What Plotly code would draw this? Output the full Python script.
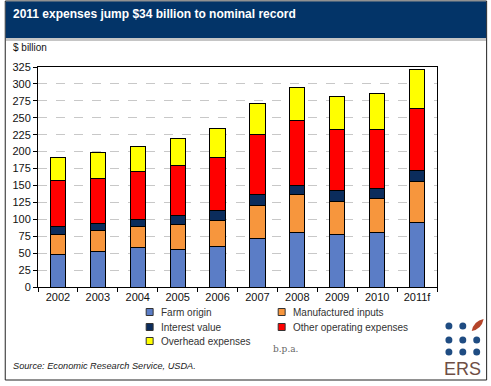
import plotly.graph_objects as go

years = ["2002", "2003", "2004", "2005", "2006", "2007", "2008", "2009", "2010", "2011f"]
farm_origin = [48, 53, 58, 56, 60, 72, 80, 77, 81, 96]
manufactured_inputs = [29, 30, 31, 36, 38, 48, 56, 50, 50, 60]
interest_value = [13, 11, 11, 14, 15, 16, 14, 15, 15, 16]
other_operating = [67, 67, 70, 73, 78, 89, 96, 90, 86, 92]
overhead = [35, 37, 38, 41, 43, 46, 48, 49, 54, 58]

series_names = ["Farm origin", "Manufactured inputs", "Interest value",
                "Other operating expenses", "Overhead expenses"]
series_values = [farm_origin, manufactured_inputs, interest_value, other_operating, overhead]
colors = ["#5B7DC6", "#F7963D", "#0B2C5C", "#FF0000", "#FFFF00"]

W, H = 491, 386
L, R, T, B = 35, 54, 67, 99
PW, PH = W - L - R, H - T - B
FONT = "Liberation Sans, Arial, sans-serif"


def px(x):
    return (x - L) / PW


def py(y):
    return 1 - (y - T) / PH


fig = go.Figure()
for name, vals, col in zip(series_names, series_values, colors):
    fig.add_trace(go.Bar(
        x=years, y=vals, name=name,
        marker=dict(color=col, line=dict(color="#000000", width=1)),
        showlegend=False,
    ))

shapes = []
annotations = []

# outer border
shapes.append(dict(type="rect", xref="paper", yref="paper", x0=px(2), x1=px(487), y0=py(1), y1=py(380),
                   line=dict(color="#222222", width=1), fillcolor="rgba(0,0,0,0)", layer="below"))
# title bar shadow
shapes.append(dict(type="rect", xref="paper", yref="paper", x0=px(2.5), x1=px(486.5), y0=py(37), y1=py(41),
                   line=dict(width=0), fillcolor="rgba(90,90,90,0.35)", layer="below"))
# title bar
shapes.append(dict(type="rect", xref="paper", yref="paper", x0=px(2.5), x1=px(486.5), y0=py(1.5), y1=py(38),
                   line=dict(width=0), fillcolor="#033468", layer="below"))
annotations.append(dict(text="<b>2011 expenses jump $34 billion to nominal record</b>", xref="paper", yref="paper",
                        x=px(8), y=py(14), xanchor="left", yanchor="middle", showarrow=False,
                        font=dict(family=FONT, size=12, color="#ffffff")))
annotations.append(dict(text="$ billion", xref="paper", yref="paper", x=px(8), y=py(48),
                        xanchor="left", yanchor="middle", showarrow=False,
                        font=dict(family=FONT, size=10, color="#111111")))

# legend (manual, two columns)
legend_pos = {
    "Farm origin": (144, 312),
    "Manufactured inputs": (277, 312),
    "Interest value": (144, 327),
    "Other operating expenses": (277, 327),
    "Overhead expenses": (144, 341),
}
for name, col in zip(series_names, colors):
    x0, yc = legend_pos[name]
    shapes.append(dict(type="rect", xref="paper", yref="paper", x0=px(x0), x1=px(x0 + 7),
                       y0=py(yc - 3.5), y1=py(yc + 3.5), line=dict(color="#333333", width=1), fillcolor=col))
    annotations.append(dict(text=name, xref="paper", yref="paper", x=px(x0 + 13), y=py(yc),
                            xanchor="left", yanchor="middle", showarrow=False,
                            font=dict(family=FONT, size=10, color="#333333")))

annotations.append(dict(text="b.p.a.", xref="paper", yref="paper", x=px(270), y=py(349),
                        xanchor="left", yanchor="middle", showarrow=False,
                        font=dict(family="DejaVu Serif, serif", size=9, color="#666666")))
annotations.append(dict(text="<i>Source: Economic Research Service, USDA.</i>", xref="paper", yref="paper",
                        x=px(8), y=py(366), xanchor="left", yanchor="middle", showarrow=False,
                        font=dict(family=FONT, size=9.2, color="#222222")))

# ERS logo
for (cx, cy) in [(449, 326), (463, 326), (449, 340), (463, 340), (477, 340), (449, 352), (463, 352), (477, 352)]:
    shapes.append(dict(type="circle", xref="paper", yref="paper", x0=px(cx - 3.5), x1=px(cx + 3.5),
                       y0=py(cy - 3.5), y1=py(cy + 3.5), line=dict(width=0), fillcolor="#1F4C82"))
# leaf
shapes.append(dict(type="path", xref="paper", yref="paper",
                   path=f"M {px(472)},{py(331)} Q {px(474)},{py(321)} {px(484)},{py(319)} "
                        f"Q {px(482)},{py(329)} {px(472)},{py(331)} Z",
                   line=dict(width=0), fillcolor="#B5452A"))
annotations.append(dict(text="ERS", xref="paper", yref="paper", x=px(463), y=py(369),
                        xanchor="center", yanchor="middle", showarrow=False,
                        font=dict(family=FONT, size=18, color="#6E4E45")))

fig.update_layout(
    width=W, height=H,
    margin=dict(l=L, r=R, t=T, b=B, pad=0),
    barmode="stack", bargap=0.62,
    paper_bgcolor="#ffffff", plot_bgcolor="#ffffff",
    font=dict(family=FONT, size=11, color="#111111"),
    shapes=shapes, annotations=annotations,
    xaxis=dict(type="category", showline=True, linecolor="#000000", linewidth=1, mirror=True,
               ticks="outside", tickson="boundaries", ticklen=4, tickcolor="#000000",
               tickfont=dict(family=FONT, size=11, color="#111111"), showgrid=False),
    yaxis=dict(range=[0, 325], dtick=25, showline=True, linecolor="#000000", linewidth=1, mirror=True,
               ticks="outside", ticklen=4, tickcolor="#000000",
               tickfont=dict(family=FONT, size=11, color="#111111"),
               showgrid=True, gridcolor="#C8C8C8", griddash="dash", gridwidth=1, zeroline=False),
)

fig.write_html("out.html", config={"displayModeBar": False},
               post_script="document.body.style.margin='0';document.body.style.overflow='hidden';")
